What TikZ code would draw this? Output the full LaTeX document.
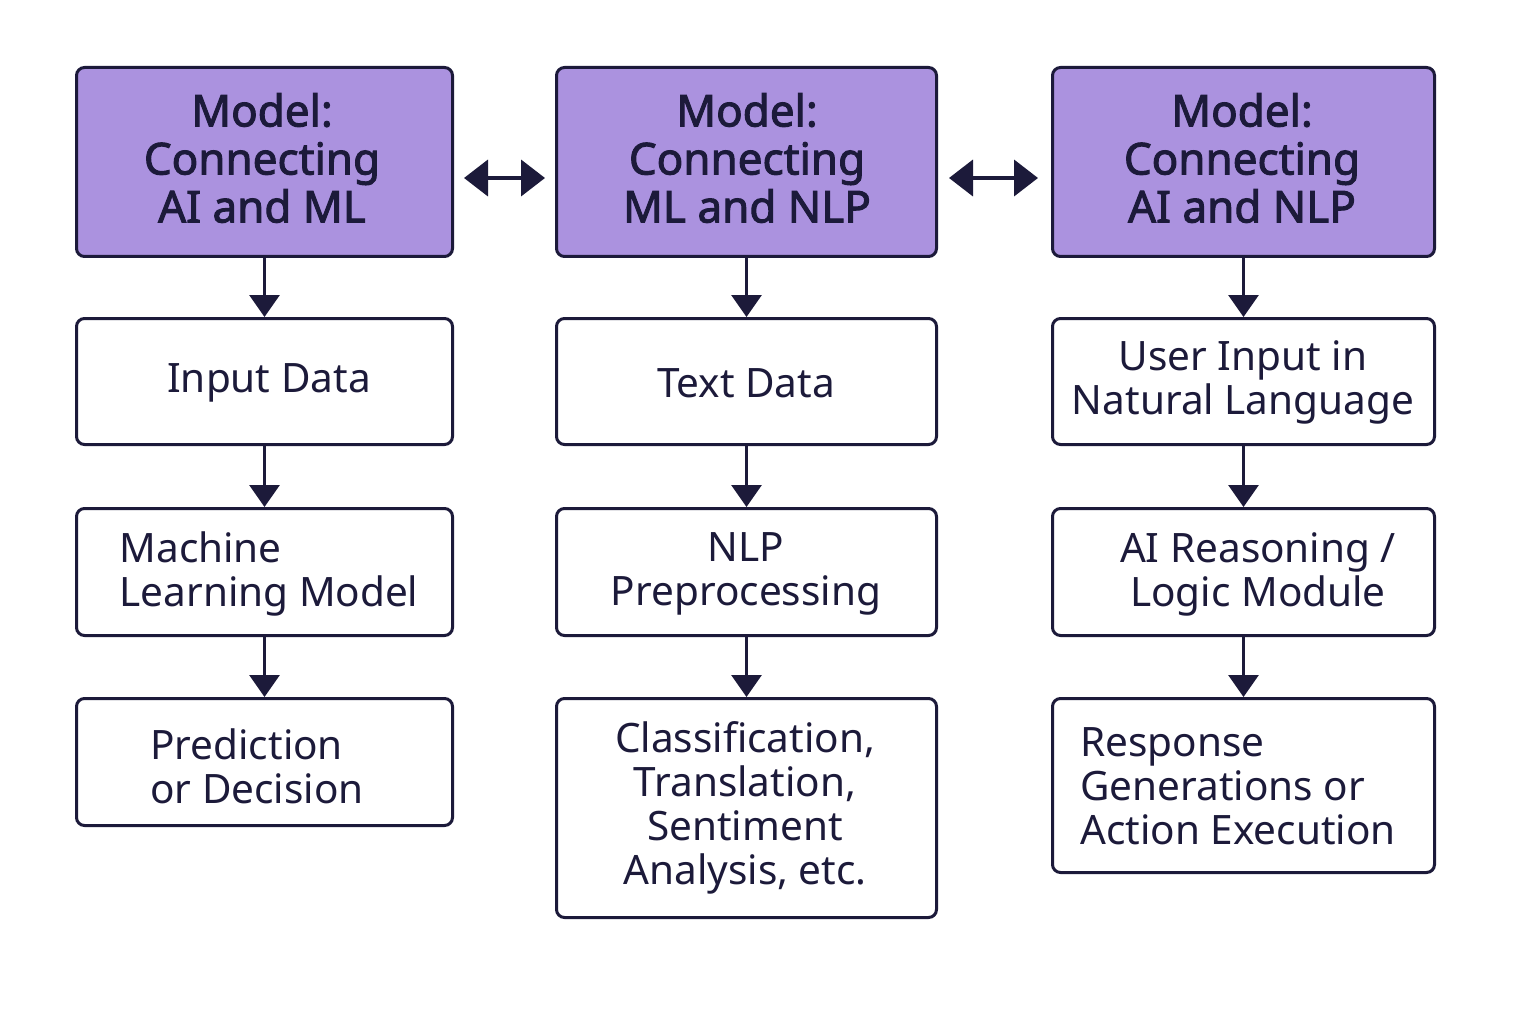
\documentclass[tikz,border=0pt]{standalone}
\usepackage{fontspec}
\setmainfont{Noto Sans}
\newfontfamily\headfont{Noto Sans}[FakeBold=2.2]
\usetikzlibrary{arrows.meta}
\definecolor{ink}{HTML}{1C1A3A}
\definecolor{lav}{HTML}{AB92DF}
\tikzset{
  box/.style={draw=ink, line width=3pt, rounded corners=8pt, fill=white, text=ink,
    inner sep=0pt, anchor=north west},
  head/.style={box, fill=lav},
  htext/.style={text=ink, font=\headfont\fontsize{44}{48}\selectfont, align=center},
  btext/.style={text=ink, font=\fontsize{40.5}{44}\selectfont},
  conn/.style={draw=ink, line width=3pt, -{Triangle[width=30pt,length=22pt]}},
  dconn/.style={draw=ink, line width=4pt, {Triangle[width=36pt,length=24pt]}-{Triangle[width=36pt,length=24pt]}}
}
\begin{document}
\begin{tikzpicture}[x=1pt,y=-1pt]
\useasboundingbox[fill=white] (0,0) rectangle (1536,1024);
% headers
\node[head, minimum width=376pt, minimum height=189pt] (h1) at (75,66) {};
\node[htext] (t1) at (262,158) {Model:\\Connecting\\AI and ML};
\node[head, minimum width=380pt, minimum height=189pt] (h2) at (555,66) {};
\node[htext] (t2) at (747,158) {Model:\\Connecting\\ML and NLP};
\node[head, minimum width=382pt, minimum height=189pt] (h3) at (1051,66) {};
\node[htext] (t3) at (1242,158) {Model:\\Connecting\\AI and NLP};
% column 1
\node[box, minimum width=376pt, minimum height=126pt] (a2) at (75,317) {};
\node[btext] (ta2) at (269,383) {Input Data};
\node[box, minimum width=376pt, minimum height=127pt] (a3) at (75,507) {};
\node[btext, align=left] (ta3) at (269,574) {Machine\\Learning Model};
\node[box, minimum width=376pt, minimum height=127pt] (a4) at (75,697) {};
\node[btext, align=left] (ta4) at (257,766) {Prediction\\or Decision};
% column 2
\node[box, minimum width=380pt, minimum height=126pt] (b2) at (555,317) {};
\node[btext] (tb2) at (746,383) {Text Data};
\node[box, minimum width=380pt, minimum height=127pt] (b3) at (555,507) {};
\node[btext, align=center] (tb3) at (746,574) {NLP\\Preprocessing};
\node[box, minimum width=380pt, minimum height=219pt] (b4) at (555,697) {};
\node[btext, align=center] (tb4) at (745,808) {Classification,\\Translation,\\Sentiment\\Analysis, etc.};
% column 3
\node[box, minimum width=382pt, minimum height=126pt] (c2) at (1051,317) {};
\node[btext, align=center] (tc2) at (1243,382) {User Input in\\Natural Language};
\node[box, minimum width=382pt, minimum height=127pt] (c3) at (1051,507) {};
\node[btext, align=center] (tc3) at (1258,574) {AI Reasoning /\\Logic Module};
\node[box, minimum width=382pt, minimum height=174pt] (c4) at (1051,697) {};
\node[btext, align=left] (tc4) at (1238,786) {Response\\Generations or\\Action Execution};
% arrows
\foreach \u/\v in {h1/a2,a2/a3,a3/a4,h2/b2,b2/b3,b3/b4,h3/c2,c2/c3,c3/c4}
  \draw[conn] (\u.south) -- (\v.north);
\path (h1.east) ++(10,0) coordinate (p1);
\path (h2.west) ++(-10,0) coordinate (p2);
\path (h2.east) ++(11,0) coordinate (p3);
\path (h3.west) ++(-13,0) coordinate (p4);
\draw[dconn] ([yshift=-16pt]p1) -- ([yshift=-16pt]p2);
\draw[dconn] ([yshift=-16pt]p3) -- ([yshift=-16pt]p4);
\end{tikzpicture}
\end{document}
